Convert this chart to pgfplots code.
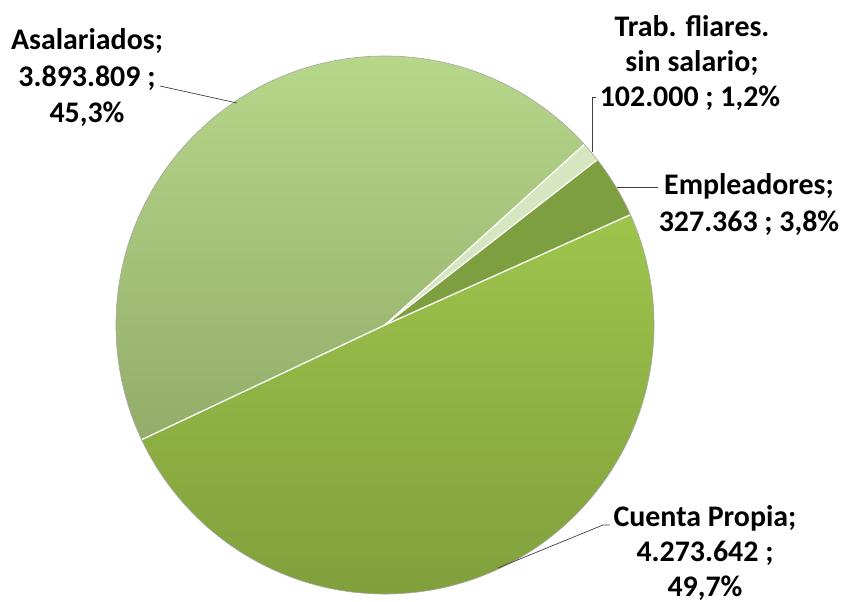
\documentclass[border=0pt]{standalone}
\usepackage{pgfplots}
\pgfplotsset{compat=1.18}
\usepackage{pgfplotstable}
\usepackage{fontspec}
\setmainfont{Carlito}
\definecolor{cAsalTop}{HTML}{B9DA8D}
\definecolor{cAsalBot}{HTML}{93AD69}
\definecolor{cCPTop}{HTML}{9DC54C}
\definecolor{cCPBot}{HTML}{7E9C3A}
\definecolor{cEmp}{HTML}{7E9F3F}
\definecolor{cTrab}{HTML}{D6E6C0}
\definecolor{cLead}{HTML}{404040}
\pgfplotstableread[col sep=comma]{
name,value
Empleadores,327363
Trab,102000
Asalariados,3893809
CuentaPropia,4273642
}\piedata
\begin{document}
\begin{tikzpicture}
\useasboundingbox (0,0) rectangle (844bp,602bp);
\pgfplotstablegetelem{0}{value}\of\piedata \global\let\vA\pgfplotsretval
\pgfplotstablegetelem{1}{value}\of\piedata \global\let\vB\pgfplotsretval
\pgfplotstablegetelem{2}{value}\of\piedata \global\let\vC\pgfplotsretval
\pgfplotstablegetelem{3}{value}\of\piedata \global\let\vD\pgfplotsretval
\pgfkeys{/pgf/fpu=true,/pgf/fpu/output format=fixed}
\pgfmathparse{\vA+\vB+\vC+\vD}\xdef\tot{\pgfmathresult}
\xdef\aA{24.2}
\pgfmathparse{\aA+360*\vA/\tot}\xdef\aB{\pgfmathresult}
\pgfmathparse{\aB+360*\vB/\tot}\xdef\aC{\pgfmathresult}
\pgfmathparse{\aC+360*\vC/\tot}\xdef\aD{\pgfmathresult}
\pgfmathparse{\aD+360*\vD/\tot}\xdef\aE{\pgfmathresult}
\pgfkeys{/pgf/fpu=false}
\begin{axis}[at={(0,0)},anchor=south west,scale only axis,
  width=844bp,height=602bp,xmin=0,xmax=844,ymin=0,ymax=602,hide axis,clip=false]
% slices
\fill[cEmp] (axis cs:385,277) -- ++(\aA:269bp) arc[start angle=\aA,end angle=\aB,radius=269bp] -- cycle;
\fill[cTrab] (axis cs:385,277) -- ++(\aB:269bp) arc[start angle=\aB,end angle=\aC,radius=269bp] -- cycle;
\shade[top color=cAsalTop,bottom color=cAsalBot] (axis cs:385,277) -- ++(\aC:269bp) arc[start angle=\aC,end angle=\aD,radius=269bp] -- cycle;
\shade[top color=cCPTop,bottom color=cCPBot] (axis cs:385,277) -- ++(\aD:269bp) arc[start angle=\aD,end angle=\aE,radius=269bp] -- cycle;
% separators
\draw[white,line width=1.3bp] (axis cs:385,277) -- ++(\aA:269bp);
\draw[white,line width=1.3bp] (axis cs:385,277) -- ++(\aB:269bp);
\draw[white,line width=1.3bp] (axis cs:385,277) -- ++(\aC:269bp);
\draw[white,line width=1.3bp] (axis cs:385,277) -- ++(\aD:269bp);
\draw[black!35,line width=0.6bp] (axis cs:385,277) circle[radius=269bp];
% leader lines
\draw[cLead,line width=0.7bp] (axis cs:160,516) -- (axis cs:237,499);
\draw[cLead,line width=0.7bp] (axis cs:596,505) -- (axis cs:592,505) -- (axis cs:592,450);
\draw[cLead,line width=0.7bp] (axis cs:658,415) -- (axis cs:617,415);
\draw[cLead,line width=0.7bp] (axis cs:610,77) -- (axis cs:603,77) -- (axis cs:498,34);
% labels
\begin{scope}[every node/.style={anchor=base,inner sep=0pt,font=\fontsize{30}{36}\selectfont\bfseries}]
\node at (axis cs:87,552) {Asalariados;};
\node at (axis cs:87,515) {3.893.809 ;};
\node at (axis cs:87,479) {45,3\%};
\node at (axis cs:692,565) {Trab. fliares.};
\node at (axis cs:692,530) {sin salario;};
\node at (axis cs:690,495) {102.000 ; 1,2\%};
\node at (axis cs:749,407) {Empleadores;};
\node at (axis cs:749,370) {327.363 ; 3,8\%};
\node at (axis cs:705,76) {Cuenta Propia;};
\node at (axis cs:705,41) {4.273.642 ;};
\node at (axis cs:705,6) {49,7\%};
\end{scope}
\end{axis}
\end{tikzpicture}
\end{document}
